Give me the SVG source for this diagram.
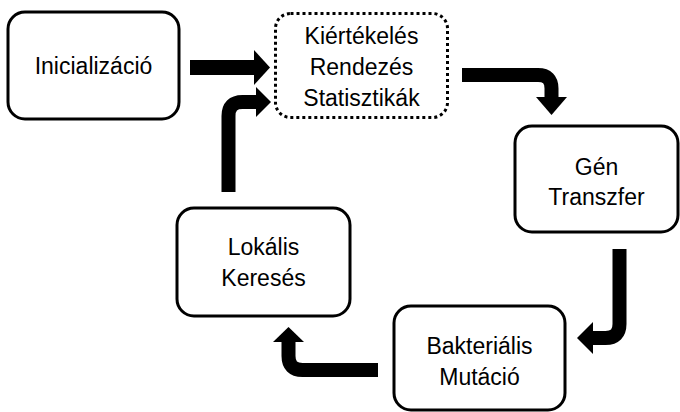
<svg xmlns="http://www.w3.org/2000/svg" width="680" height="412" viewBox="0 0 680 412">
<style>
.box{fill:#fff;stroke:#000;stroke-width:3}
.dot{fill:#fff;stroke:#000;stroke-width:3;stroke-dasharray:3 3}
.t{font-family:"Liberation Sans",Arial,sans-serif;font-size:23px;fill:#000;text-anchor:middle}
.sh{fill:none;stroke:#000;stroke-width:14}
.hd{fill:#000}
</style>
<rect width="680" height="412" fill="#fff"/>
<g id="connectors">
<path class="sh" d="M190 67.5 H256" style="stroke-width:15"/>
<polygon class="hd" points="254,50 270,67.5 254,85"/>
<path class="sh" d="M228.5 192 V116 Q228.5 102 242.5 102 H258"/>
<polygon class="hd" points="256,87 271,102 256,117"/>
<path class="sh" d="M462 75 H538 Q551.5 75 551.5 88.5 V99"/>
<polygon class="hd" points="536,97 567,97 551.5,115"/>
<path class="sh" d="M619.5 249 V324 Q619.5 338 605.5 338 H591"/>
<polygon class="hd" points="593,322 577,338 593,354"/>
<path class="sh" d="M378 370 H302.5 Q288.5 370 288.5 356 V340"/>
<polygon class="hd" points="273,342 288.5,327 304,342"/>
</g>
<g id="init">
<rect class="box" x="8" y="12" width="171" height="107" rx="17"/>
<text class="t" x="93.5" y="74">Inicializáció</text>
</g>
<g id="eval">
<rect class="dot" x="275.5" y="13.5" width="172" height="104" rx="15"/>
<text class="t" x="361.5" y="44">Kiértékelés</text>
<text class="t" x="361.5" y="75">Rendezés</text>
<text class="t" x="361.5" y="106">Statisztikák</text>
</g>
<g id="gen">
<rect class="box" x="515" y="126" width="163" height="106" rx="17"/>
<text class="t" x="596.5" y="175">Gén</text>
<text class="t" x="596.5" y="205">Transzfer</text>
</g>
<g id="mut">
<rect class="box" x="394" y="306" width="171" height="104" rx="17"/>
<text class="t" x="479.5" y="354">Bakteriális</text>
<text class="t" x="479.5" y="385">Mutáció</text>
</g>
<g id="local">
<rect class="box" x="177" y="208" width="173" height="108" rx="17"/>
<text class="t" x="263.5" y="255">Lokális</text>
<text class="t" x="263.5" y="286">Keresés</text>
</g>
</svg>
